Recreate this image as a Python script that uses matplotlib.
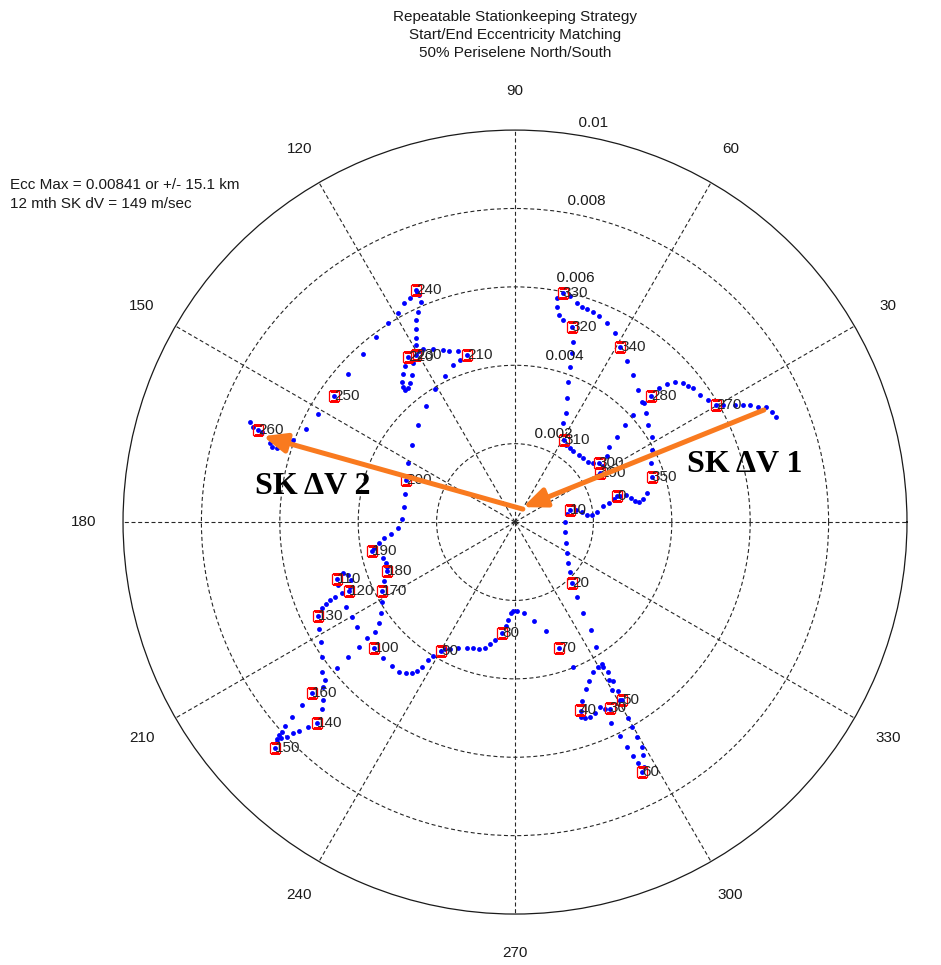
import numpy as np
import matplotlib.pyplot as plt

plt.rcParams['font.family'] = ['Liberation Sans', 'DejaVu Sans']

# eccentricity vector (e*cos(w), e*sin(w)), units of 1e-3
days_0_60 = [(2.60, 0.66), (2.52, 0.59), (2.40, 0.48), (2.24, 0.41), (2.09, 0.26), (1.96, 0.18),
             (1.84, 0.18), (1.71, 0.26), (1.56, 0.31), (1.40, 0.31), (1.33, 0.20), (1.28, 0.00),
             (1.28, -0.26), (1.30, -0.54), (1.33, -0.79), (1.35, -1.05), (1.40, -1.28), (1.45, -1.56),
             (1.58, -1.91), (1.73, -2.32), (1.94, -2.75), (2.07, -3.19), (2.22, -3.62), (2.24, -3.70),
             (2.12, -3.70), (2.37, -3.83), (1.99, -3.83), (1.89, -4.05), (2.40, -4.03), (2.50, -4.05),
             (1.81, -4.26), (2.47, -4.28), (2.63, -4.31), (1.71, -4.56), (2.68, -4.54), (2.73, -4.54),
             (2.17, -4.72), (2.30, -4.77), (2.42, -4.77), (2.04, -4.87), (1.91, -4.97), (1.79, -5.00),
             (1.68, -4.97), (1.68, -4.82), (2.88, -5.00), (2.45, -5.13), (2.98, -5.23), (3.11, -5.48),
             (2.68, -5.46), (3.24, -5.74), (2.86, -5.74), (3.26, -5.94), (3.01, -5.97), (3.29, -6.25),
             (3.14, -6.15), (3.24, -6.38), (1.48, -3.70)]

days_70_130 = [(1.12, -3.21), (0.79, -2.78), (0.48, -2.52), (0.23, -2.32), (0.05, -2.27), (-0.05, -2.27),
               (-0.10, -2.32), (-0.18, -2.50), (-0.23, -2.65), (-0.33, -2.83), (-0.51, -3.01), (-0.64, -3.11),
               (-0.77, -3.21), (-0.92, -3.24), (-1.07, -3.21), (-1.22, -3.21), (-1.45, -3.21), (-1.66, -3.24),
               (-1.79, -3.24), (-1.89, -3.29), (-2.09, -3.42), (-2.22, -3.52), (-2.37, -3.70), (-2.50, -3.80),
               (-2.63, -3.85), (-2.78, -3.85), (-2.96, -3.83), (-3.14, -3.67), (-3.37, -3.47), (-3.60, -3.21),
               (-3.77, -2.96), (-3.98, -3.19), (-4.26, -3.44), (-4.54, -3.72), (-3.57, -2.81), (-3.47, -2.58),
               (-3.42, -2.32), (-3.39, -2.04), (-4.31, -2.17), (-4.03, -2.68), (-4.16, -2.42), (-4.54, -1.45),
               (-4.39, -1.30), (-4.26, -1.35), (-4.18, -1.48), (-4.21, -1.66), (-4.23, -1.76), (-4.41, -1.81),
               (-4.51, -1.61), (-4.59, -1.91), (-4.72, -1.99), (-4.82, -2.09), (-4.92, -2.19), (-5.02, -2.40)]

days_130_200 = [(-5.00, -2.73), (-4.95, -3.06), (-4.92, -3.44), (-4.92, -3.83), (-4.85, -4.03), (-4.90, -4.21),
                (-4.90, -4.54), (-4.92, -4.77), (-5.05, -5.13), (-5.28, -5.23), (-5.51, -5.33), (-5.66, -5.38),
                (-5.81, -5.48), (-5.97, -5.51), (-6.07, -5.61), (-6.12, -5.76), (-6.07, -5.53), (-6.02, -5.43),
                (-5.94, -5.36), (-5.87, -5.20), (-5.69, -4.97), (-5.43, -4.67), (-5.18, -4.36),
                (-3.39, -1.76), (-3.34, -1.50), (-3.26, -1.25), (-3.26, -1.15), (-3.29, -1.05), (-3.37, -0.92),
                (-3.65, -0.74), (-3.60, -0.66), (-3.47, -0.54), (-3.34, -0.41), (-3.16, -0.31), (-2.98, -0.15),
                (-2.88, 0.08), (-2.83, 0.38), (-2.81, 0.71), (-2.78, 1.07)]

days_200_260 = [(-2.73, 1.50), (-2.63, 1.96), (-2.47, 2.47), (-2.27, 2.96), (-2.04, 3.39), (-1.79, 3.72),
                (-1.58, 4.00), (-1.40, 4.13), (-1.22, 4.26), (-1.45, 4.36), (-1.68, 4.36), (-1.84, 4.39),
                (-2.09, 4.41), (-2.35, 4.41), (-2.45, 4.36), (-2.73, 4.21), (-2.81, 3.98), (-2.86, 3.77),
                (-2.88, 3.57), (-2.86, 3.44), (-2.81, 3.37), (-2.73, 3.42), (-2.68, 3.54), (-2.63, 3.75),
                (-2.60, 4.05), (-2.52, 4.26), (-2.52, 4.51), (-2.52, 4.69), (-2.52, 4.92), (-2.52, 5.15),
                (-2.47, 5.36), (-2.40, 5.61), (-2.45, 5.79), (-2.50, 5.87), (-2.52, 5.92), (-2.68, 5.71),
                (-2.83, 5.58), (-2.98, 5.33), (-3.24, 5.07), (-3.54, 4.72), (-3.88, 4.28), (-4.26, 3.77),
                (-4.62, 3.21), (-5.02, 2.75), (-5.33, 2.37), (-5.66, 2.09), (-5.92, 1.94), (-6.07, 1.89),
                (-6.20, 1.91), (-6.25, 2.01), (-6.45, 2.30), (-6.55, 2.35), (-6.68, 2.42), (-6.76, 2.55)]

days_260_365 = [(6.66, 2.68), (6.55, 2.81), (6.40, 2.93), (6.20, 2.93), (5.99, 2.98), (5.81, 2.98),
                (5.61, 2.98), (5.30, 2.98), (5.13, 2.98), (4.92, 3.11), (4.72, 3.24), (4.54, 3.42),
                (4.41, 3.47), (4.28, 3.54), (4.08, 3.57), (3.88, 3.52), (3.67, 3.42), (3.47, 3.21),
                (3.29, 3.03), (3.01, 2.73), (2.81, 2.47), (2.60, 2.17), (2.40, 1.91), (2.35, 1.68),
                (2.24, 1.43), (2.17, 1.25), (2.14, 1.50), (1.99, 1.50), (1.86, 1.53), (1.73, 1.63),
                (1.63, 1.71), (1.48, 1.81), (1.40, 1.89), (1.30, 1.96), (1.25, 2.09), (1.22, 2.52),
                (1.30, 2.78), (1.33, 3.16), (1.35, 3.57), (1.40, 3.95), (1.45, 4.31), (1.48, 4.59),
                (1.45, 4.97), (1.22, 5.15), (1.12, 5.28), (1.07, 5.48), (1.07, 5.71), (1.22, 5.84),
                (1.40, 5.76), (1.58, 5.58), (1.71, 5.48), (1.84, 5.43), (1.99, 5.36), (2.14, 5.25),
                (2.35, 5.07), (2.55, 4.82), (2.68, 4.46), (2.86, 4.11), (3.01, 3.75), (3.14, 3.37),
                (3.24, 3.06), (3.34, 2.78), (3.39, 2.47), (3.49, 2.17), (3.49, 1.84), (3.47, 1.50),
                (3.49, 1.15), (3.37, 0.74), (3.26, 0.59), (3.16, 0.51), (3.06, 0.54), (2.96, 0.61),
                (2.83, 0.69), (2.68, 0.66)]

# every 10th day gets a red box and a label
mark_day = [0, 10, 20, 30, 40, 50, 60, 70, 80, 90, 100, 110, 120, 130, 140, 150, 160, 170,
            180, 190, 200, 210, 220, 230, 240, 250, 260, 270, 280, 290, 300, 310, 320, 330, 340, 350]
mark_x = [2.60, 1.40, 1.45, 2.42, 1.66, 2.73, 3.24, 1.12, -0.33, -1.89, -3.60, -4.54, -4.23, -5.02,
          -5.05, -6.12, -5.18, -3.39, -3.26, -3.65, -2.78, -1.22, -2.73, -2.52, -2.52, -4.62, -6.55,
          5.13, 3.47, 2.17, 2.14, 1.25, 1.45, 1.22, 2.68, 3.49]
mark_y = [0.66, 0.31, -1.56, -4.74, -4.79, -4.54, -6.38, -3.21, -2.83, -3.29, -3.21, -1.45, -1.76, -2.40,
          -5.13, -5.76, -4.36, -1.76, -1.25, -0.74, 1.07, 4.26, 4.21, 4.26, 5.92, 3.21, 2.35,
          2.98, 3.21, 1.25, 1.50, 2.09, 4.97, 5.84, 4.46, 1.15]

# stationkeeping delta-V arrows (start, end), units of 1e-3
dv1 = [(6.35, 2.86), (0.20, 0.38)]
dv2 = [(0.20, 0.33), (-6.43, 2.19)]

r_ticks = [0.002, 0.004, 0.006, 0.008, 0.01]
theta_ticks = list(range(0, 360, 30))

title_lines = ['Repeatable Stationkeeping Strategy',
               'Start/End Eccentricity Matching',
               '50% Periselene North/South']
note_lines = ['Ecc Max = 0.00841 or +/- 15.1 km', '12 mth SK dV = 149 m/sec']


def to_polar(pts):
    p = np.asarray(pts, dtype=float) * 1e-3
    return np.arctan2(p[..., 1], p[..., 0]), np.hypot(p[..., 0], p[..., 1])


fig = plt.figure(figsize=(9.41, 9.65), dpi=100)
fig.set_facecolor('white')
ax = fig.add_axes([0.1307, 0.0528, 0.8332, 0.8124], projection='polar')

ax.set_ylim(0, 0.01)
ax.set_yticks(r_ticks[:-1])
ax.set_yticklabels([])
ax.set_xticks(np.deg2rad(theta_ticks))
ax.set_xticklabels([])
ax.tick_params(length=0)
ax.grid(True, color='0.15', lw=0.8, linestyle=(0, (3.6, 2.4)))
ax.spines['polar'].set_linewidth(0.9)
ax.spines['polar'].set_color('0.1')

for a in theta_ticks:
    ax.text(np.deg2rad(a), 0.011, str(a), ha='center', va='center', fontsize=11,
            color='0.1', clip_on=False)
for rv in r_ticks:
    ax.text(np.deg2rad(82), rv + 0.0001, '  ' + f'{rv:g}', ha='left', va='bottom',
            fontsize=11, color='0.1')

track = days_0_60 + days_70_130 + days_130_200 + days_200_260 + days_260_365
th, r = to_polar(track)
ax.plot(th, r, ls='none', marker='o', ms=3.5, color='#0000ff', mec='none')

mt, mr = to_polar(np.column_stack([mark_x, mark_y]))
ax.plot(mt, mr, ls='none', marker='s', ms=7.8, mfc='none', mec='#ff0000', mew=0.9)
for d, t, rr in zip(mark_day, mt, mr):
    ax.text(t, rr, str(d), ha='left', va='center', fontsize=11, color='0.15')

for start, end in (dv1, dv2):
    t0, r0 = to_polar(start)
    t1, r1 = to_polar(end)
    ax.annotate('', xy=(t1, r1), xytext=(t0, r0),
                arrowprops=dict(arrowstyle='-|>,head_length=1.0,head_width=0.42',
                                lw=3.6, color='#f97a1f', shrinkA=0, shrinkB=0,
                                mutation_scale=14))

fig.text(745 / 941, 1 - 464 / 965, 'SK ΔV 1', ha='center', va='center', fontsize=23,
         fontweight='bold', family=['Liberation Serif', 'DejaVu Serif'])
fig.text(313 / 941, 1 - 487 / 965, 'SK ΔV 2', ha='center', va='center', fontsize=23,
         fontweight='bold', family=['Liberation Serif', 'DejaVu Serif'])

for i, line in enumerate(title_lines):
    fig.text(515 / 941, 1 - (17 + 18 * i) / 965, line, ha='center', va='center',
             fontsize=11, color='0.1')
for i, line in enumerate(note_lines):
    fig.text(10 / 941, 1 - (185 + 19 * i) / 965, line, ha='left', va='center',
             fontsize=11, color='0.1')

fig.savefig('out.png', dpi=100)
